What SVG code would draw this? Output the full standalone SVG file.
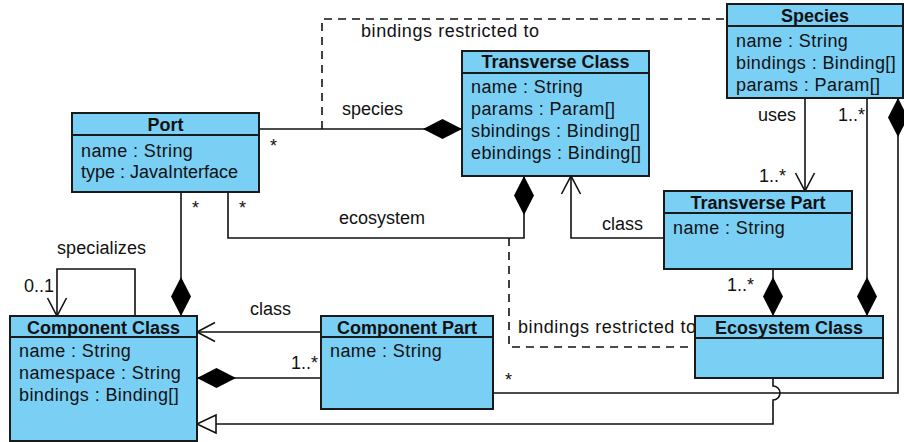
<svg xmlns="http://www.w3.org/2000/svg" width="904" height="442" viewBox="0 0 904 442">
<style>
.box{fill:#7ACFF5;stroke:#1a1a1a;stroke-width:2}
.div{stroke:#1a1a1a;stroke-width:2}
.t{font-family:"Liberation Sans",Arial,sans-serif;font-size:18px;fill:#111}
.a{letter-spacing:0.4px}
.ttl{font-weight:bold;text-anchor:middle}
.ln{fill:none;stroke:#111;stroke-width:1.6}
.dash{stroke-dasharray:8 6}
.dia{marker-end:url(#diamond)}
.arr{marker-end:url(#open)}
.gen{marker-end:url(#tri)}
</style>
<defs>
<marker id="diamond" markerUnits="userSpaceOnUse" viewBox="0 -10 39 20" refX="39" refY="0" markerWidth="39" markerHeight="20" orient="auto" overflow="visible">
<path d="M0,0 L19.5,-10 L39,0 L19.5,10 Z" fill="#000"/>
</marker>
<marker id="open" markerUnits="userSpaceOnUse" viewBox="0 -10 19 20" refX="18" refY="0" markerWidth="19" markerHeight="20" orient="auto" overflow="visible">
<path d="M0,-9.5 L18,0 L0,9.5" fill="none" stroke="#111" stroke-width="1.6"/>
</marker>
<marker id="tri" markerUnits="userSpaceOnUse" viewBox="0 -10 20 20" refX="19" refY="0" markerWidth="20" markerHeight="20" orient="auto" overflow="visible">
<path d="M0,-9 L19,0 L0,9 Z" fill="#fff" stroke="#111" stroke-width="1.6"/>
</marker>
</defs>
<rect width="904" height="442" fill="#fff"/>
<g id="connectors">
<path class="ln dia" d="M259,129 H462"/>
<path class="ln dash" d="M322,129 V19 H727"/>
<path class="ln dia" d="M181,192 V316"/>
<path class="ln dia" d="M228,192 V238 H524 V176"/>
<path class="ln dash" d="M509,238 V347 H695"/>
<path class="ln arr" d="M664,238 H571 V176"/>
<path class="ln arr" d="M805,98 V191"/>
<path class="ln dia" d="M867,98 V316"/>
<path class="ln dia" d="M773,269 V316"/>
<path class="ln dia" d="M493,393 H898 V98"/>
<path class="ln gen" d="M773,378 V386 A7,7 0 0 1 773,400 V424 H197"/>
<path class="ln arr" d="M321,332 H197"/>
<path class="ln dia" d="M321,378 H197"/>
<path class="ln arr" d="M135,316 V269 H57 V316"/>
</g>
<g id="labels" class="t">
<text x="361" y="37" textLength="178" lengthAdjust="spacing">bindings restricted to</text>
<text x="342" y="115">species</text>
<text x="270" y="152">*</text>
<text x="192" y="214">*</text>
<text x="239" y="214">*</text>
<text x="339" y="224">ecosystem</text>
<text x="602" y="230">class</text>
<text x="758" y="121">uses</text>
<text x="838" y="121">1..*</text>
<text x="759" y="182">1..*</text>
<text x="727" y="291">1..*</text>
<text x="518" y="333" textLength="178" lengthAdjust="spacing">bindings restricted to</text>
<text x="57" y="254" textLength="89" lengthAdjust="spacing">specializes</text>
<text x="24" y="292">0..1</text>
<text x="250" y="315">class</text>
<text x="291" y="369">1..*</text>
<text x="505" y="386">*</text>
</g>
<g id="port">
<rect class="box" x="72" y="113" width="187" height="79"/>
<line class="div" x1="72" y1="135" x2="259" y2="135"/>
<text class="t ttl" x="165.5" y="131">Port</text>
<text class="t a" x="81" y="157">name : String</text>
<text class="t" x="81" y="178">type : JavaInterface</text>
</g>
<g id="transverse-class">
<rect class="box" x="462" y="51" width="187" height="125"/>
<line class="div" x1="462" y1="73" x2="649" y2="73"/>
<text class="t ttl" x="555.5" y="68">Transverse Class</text>
<text class="t a" x="471" y="93">name : String</text>
<text class="t a" x="471" y="115">params : Param[]</text>
<text class="t a" x="471" y="137">sbindings : Binding[]</text>
<text class="t a" x="471" y="159">ebindings : Binding[]</text>
</g>
<g id="species">
<rect class="box" x="727" y="4" width="176" height="94"/>
<line class="div" x1="727" y1="26" x2="903" y2="26"/>
<text class="t ttl" x="815" y="22">Species</text>
<text class="t a" x="736" y="47">name : String</text>
<text class="t a" x="736" y="69">bindings : Binding[]</text>
<text class="t a" x="736" y="91">params : Param[]</text>
</g>
<g id="transverse-part">
<rect class="box" x="664" y="191" width="188" height="78"/>
<line class="div" x1="664" y1="213" x2="852" y2="213"/>
<text class="t ttl" x="758" y="209">Transverse Part</text>
<text class="t a" x="673" y="234">name : String</text>
</g>
<g id="component-class">
<rect class="box" x="10" y="316" width="187" height="125"/>
<line class="div" x1="10" y1="337" x2="197" y2="337"/>
<text class="t ttl" x="103.5" y="334">Component Class</text>
<text class="t a" x="19" y="357">name : String</text>
<text class="t a" x="19" y="379">namespace : String</text>
<text class="t a" x="19" y="401">bindings : Binding[]</text>
</g>
<g id="component-part">
<rect class="box" x="321" y="316" width="172" height="93"/>
<line class="div" x1="321" y1="337" x2="493" y2="337"/>
<text class="t ttl" x="407" y="334">Component Part</text>
<text class="t a" x="330" y="357">name : String</text>
</g>
<g id="ecosystem-class">
<rect class="box" x="695" y="316" width="188" height="62"/>
<line class="div" x1="695" y1="338" x2="883" y2="338"/>
<text class="t ttl" x="789" y="334">Ecosystem Class</text>
</g>
</svg>
